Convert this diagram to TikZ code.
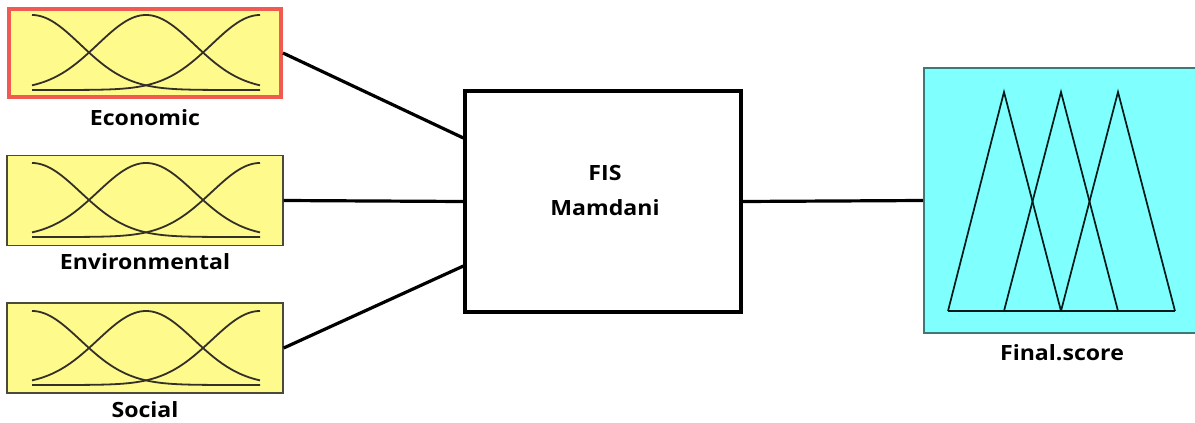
\documentclass[tikz,border=0pt]{standalone}
\usepackage{fontspec}
\setmainfont{Open Sans}[FakeStretch=1.1]
\definecolor{mfyellow}{HTML}{FFFA8C}
\definecolor{mfcyan}{HTML}{80FFFF}
\definecolor{selred}{HTML}{F05A50}
\definecolor{edgegray}{HTML}{4A4A3A}
\definecolor{edgeteal}{HTML}{3F7878}
\tikzset{
  inbox/.style={draw=edgegray, line width=1.4pt, fill=mfyellow, inner sep=0pt,
                minimum width=276pt, minimum height=90pt},
  selbox/.style={inbox, draw=selred, line width=4pt, minimum width=272pt, minimum height=88pt},
  outbox/.style={draw=edgeteal, line width=1.6pt, fill=mfcyan, inner sep=0pt,
                 minimum width=274pt, minimum height=265pt},
  fisbox/.style={draw=black, line width=3.2pt, fill=white, inner sep=0pt,
                 minimum width=276pt, minimum height=221pt},
  lbl/.style={font=\fontsize{21}{25}\selectfont\bfseries, inner sep=0pt, text=black},
  wire/.style={draw=black, line width=3.2pt},
  mfline/.style={draw=black!85!olive, line width=1.8pt},
  triline/.style={draw=black!80!teal, line width=1.7pt, line join=miter}
}
% three gaussian membership functions between x=32 and x=260
\newcommand\gaussmf[2]{%
  \foreach \c in {32,146,260}{%
    \draw[mfline] plot[domain=32:260, samples=90, smooth]
      (\x, {#2 - (#2-#1)*exp(-0.5*((\x-\c)/48.4)^2)});
  }%
}
\begin{document}
\begin{tikzpicture}[x=1pt, y=-1pt]
  \useasboundingbox (0,0) rectangle (1195,423);

  % input variables
  \node[selbox] (econ) at (145,53) {};
  \node[inbox]  (env)  at (145,200.5) {};
  \node[inbox]  (soc)  at (145,348) {};
  \gaussmf{15}{90}
  \gaussmf{163}{237}
  \gaussmf{311}{385}
  \node[lbl] (econlbl) at (145,118) {Economic};
  \node[lbl] (envlbl)  at (145,262) {Environmental};
  \node[lbl] (soclbl)  at (145,410) {Social};

  % inference system
  \node[fisbox] (fis) at (603,201.5) {};
  \node[lbl] (fisname) at (605,173) {FIS};
  \node[lbl] (fistype) at (605,208) {Mamdani};

  % output variable
  \node[outbox] (out) at (1061,200.5) {};
  \coordinate (b1) at (948,311);
  \coordinate (b2) at (1004,311);
  \coordinate (b3) at (1061,311);
  \coordinate (b4) at (1118,311);
  \coordinate (b5) at (1175,311);
  \coordinate (p1) at (1004,92);
  \coordinate (p2) at (1061,92);
  \coordinate (p3) at (1118,92);
  \draw[triline] (b1) -- (p1) -- (b3);
  \draw[triline] (b2) -- (p2) -- (b4);
  \draw[triline] (b3) -- (p3) -- (b5);
  \draw[triline] (b1) -- (b5);
  \node[lbl] (outlbl) at (1062,353) {Final.score};

  % connections
  \draw[wire] (econ.east) -- ([yshift=63.5pt]fis.west);
  \draw[wire] (env.east) -- (fis.west);
  \draw[wire] (soc.east) -- ([yshift=-64.5pt]fis.west);
  \draw[wire] (fis.east) -- (out.west);
\end{tikzpicture}
\end{document}
